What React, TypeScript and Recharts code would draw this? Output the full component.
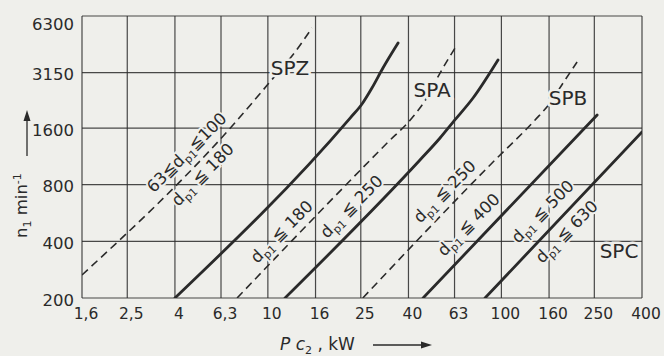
import { CartesianGrid, Line, LineChart, ReferenceDot, XAxis, YAxis } from "recharts"

// V-belt selection chart: speed n1 over design power, log-log.
const PAPER = "#efefeb"
const INK = "#2a2a2a"
const FONT = "'DejaVu Sans', sans-serif"

const xTicks = [1.6, 2.5, 4, 6.3, 10, 16, 25, 40, 63, 100, 160, 250, 400]
const xTickLabels = ["1,6", "2,5", "4", "6,3", "10", "16", "25", "40", "63", "100", "160", "250", "400"]
const yTicks = [200, 400, 800, 1600, 3150, 6300]

type Pt = { p: number; n: number }

// limit lines (p in kW, n in min-1)
const spzDashed: Pt[] = [
  { p: 1.6, n: 265 },
  { p: 7.09, n: 1660 },
  { p: 10.2, n: 2810 },
  { p: 13.07, n: 4056 },
  { p: 15.45, n: 5440 },
]
const spzSolid: Pt[] = [
  { p: 4, n: 200 },
  { p: 22.5, n: 1808 },
  { p: 25.3, n: 2147 },
  { p: 27.9, n: 2610 },
  { p: 31.1, n: 3334 },
  { p: 36.1, n: 4526 },
]
const spaDashed: Pt[] = [
  { p: 7.38, n: 200 },
  { p: 32.4, n: 1332 },
  { p: 41.4, n: 1808 },
  { p: 47.6, n: 2282 },
  { p: 54.6, n: 3136 },
  { p: 63.3, n: 4259 },
]
const spaSolid: Pt[] = [
  { p: 11.84, n: 200 },
  { p: 44.8, n: 1082 },
  { p: 54.6, n: 1416 },
  { p: 62.1, n: 1722 },
  { p: 75.6, n: 2310 },
  { p: 96.7, n: 3678 },
]
const spbDashed: Pt[] = [
  { p: 25.5, n: 200 },
  { p: 92.1, n: 1056 },
  { p: 139.4, n: 1766 },
  { p: 161.6, n: 2173 },
  { p: 183.7, n: 2776 },
  { p: 210.9, n: 3588 },
]
const spbSolid: Pt[] = [
  { p: 46.2, n: 200 },
  { p: 257, n: 1876 },
]
const spcSolid: Pt[] = [
  { p: 85.1, n: 200 },
  { p: 400, n: 1524 },
]

// section names
const profileNames = ["SPZ", "SPA", "SPB", "SPC"]
const profileAt: Pt[] = [
  { p: 12.44, n: 3334 },
  { p: 50.5, n: 2548 },
  { p: 193, n: 2310 },
  { p: 319, n: 355 },
]

// pitch diameter notes along the lines: text before "d", text after "p1"
const notePre = ["63≦", "", "", "", "", "", "", ""]
const notePost = ["≦100", " ≦ 180", " ≦ 180", " ≦ 250", " ≦ 250", " ≦ 400", " ≦ 500", " ≦ 630"]
const noteAt: Pt[] = [
  { p: 4.51, n: 1179 },
  { p: 5.28, n: 901 },
  { p: 11.5, n: 448 },
  { p: 22.9, n: 609 },
  { p: 57.4, n: 732 },
  { p: 72.7, n: 488 },
  { p: 150.8, n: 573 },
  { p: 191, n: 448 },
]

function XTick({ x, y, payload }: any) {
  const i = xTicks.indexOf(payload.value)
  return (
    <text x={x + 4} y={y} dy={21} textAnchor="middle" fontSize={15.5} fontFamily={FONT} fill={INK}>
      {xTickLabels[i] ?? payload.value}
    </text>
  )
}

function YTick({ x, y, payload }: any) {
  const top = payload.value === 6300 ? 6 : 0
  return (
    <text x={x - 8} y={y} dy={7.5 + top} textAnchor="end" fontSize={16.5} fontFamily={FONT} fill={INK}>
      {payload.value}
    </text>
  )
}

function XTitle() {
  return (
    <g fill={INK} fontFamily={FONT}>
      <text x={280} y={350} fontSize={17}>
        <tspan fontStyle="italic">P c</tspan>
        <tspan dy={4} fontSize={11}>2</tspan>
        <tspan dy={-4}> , kW</tspan>
      </text>
      <line x1={373} y1={345} x2={424} y2={345} stroke={INK} strokeWidth={1.3} />
      <path d="M432,345 L421,341.5 L421,348.5 Z" />
    </g>
  )
}

function YTitle() {
  return (
    <g fill={INK} fontFamily={FONT}>
      <text x={27} y={238} fontSize={16.5} transform="rotate(-90 27 238)">
        n<tspan dy={4} fontSize={11}>1</tspan>
        <tspan dy={-4}>{"  "}min</tspan>
        <tspan dy={-6} fontSize={11}>-1</tspan>
      </text>
      <line x1={27} y1={156} x2={27} y2={120} stroke={INK} strokeWidth={1.3} />
      <path d="M27,110 L23.5,121 L30.5,121 Z" />
    </g>
  )
}

function profileShape(name: string) {
  return ({ cx, cy }: any) => (
    <text
      x={cx}
      y={cy}
      dy={7}
      textAnchor="middle"
      fontSize={20}
      fontFamily={FONT}
      fill={INK}
      stroke={PAPER}
      strokeWidth={5}
      paintOrder="stroke"
    >
      {name}
    </text>
  )
}

function noteShape(pre: string, post: string) {
  return ({ cx, cy }: any) => (
    <text
      x={cx}
      y={cy}
      dy={5}
      textAnchor="middle"
      transform={`rotate(-45 ${cx} ${cy})`}
      fontSize={16.5}
      fontFamily={FONT}
      fill={INK}
      stroke={PAPER}
      strokeWidth={4}
      paintOrder="stroke"
    >
      {pre}d<tspan dy={4} fontSize={11}>p1</tspan>
      <tspan dy={-4}>{post}</tspan>
    </text>
  )
}

const solid = { stroke: INK, strokeWidth: 2.8, strokeLinecap: "round" as const }
const dashed = { stroke: INK, strokeWidth: 1.6, strokeDasharray: "8 5" }

export default function App() {
  return (
    <div style={{ position: "fixed", left: 0, top: 0, width: 664, height: 356, background: PAPER }}>
      <LineChart width={664} height={356} margin={{ top: 16, right: 22, bottom: 28, left: 0 }}>
        <CartesianGrid stroke={INK} strokeWidth={1.2} strokeOpacity={0.85} />
        <XAxis
          type="number"
          dataKey="p"
          scale="log"
          domain={[1.6, 400]}
          allowDataOverflow
          ticks={xTicks}
          interval={0}
          tickSize={0}
          tickMargin={0}
          axisLine={false}
          height={30}
          tick={<XTick />}
          label={<XTitle />}
        />
        <YAxis
          type="number"
          dataKey="n"
          scale="log"
          domain={[200, 6300]}
          allowDataOverflow
          ticks={yTicks}
          interval={0}
          tickSize={0}
          tickMargin={0}
          axisLine={false}
          width={82}
          tick={<YTick />}
          label={<YTitle />}
        />
        <Line data={spzDashed} dataKey="n" type="monotone" dot={false} isAnimationActive={false} {...dashed} />
        <Line data={spzSolid} dataKey="n" type="monotone" dot={false} isAnimationActive={false} {...solid} />
        <Line data={spaDashed} dataKey="n" type="monotone" dot={false} isAnimationActive={false} {...dashed} />
        <Line data={spaSolid} dataKey="n" type="monotone" dot={false} isAnimationActive={false} {...solid} />
        <Line data={spbDashed} dataKey="n" type="monotone" dot={false} isAnimationActive={false} {...dashed} />
        <Line data={spbSolid} dataKey="n" type="linear" dot={false} isAnimationActive={false} {...solid} />
        <Line data={spcSolid} dataKey="n" type="linear" dot={false} isAnimationActive={false} {...solid} />
        {noteAt.map((pt, i) => (
          <ReferenceDot key={`note${i}`} x={pt.p} y={pt.n} r={0} shape={noteShape(notePre[i], notePost[i])} />
        ))}
        {profileAt.map((pt, i) => (
          <ReferenceDot key={profileNames[i]} x={pt.p} y={pt.n} r={0} shape={profileShape(profileNames[i])} />
        ))}
      </LineChart>
    </div>
  )
}
